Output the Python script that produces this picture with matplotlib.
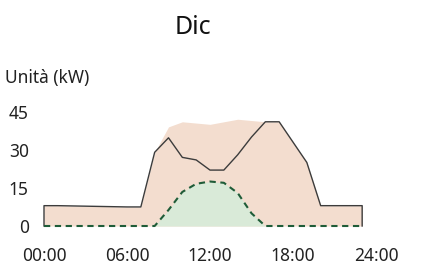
import matplotlib.pyplot as plt
import numpy as np

plt.rcParams['font.family'] = ['Noto Sans', 'DejaVu Sans']

# dati orari (kW)
ore = list(range(24))
carico = [8, 8, 7.9, 7.8, 7.7, 7.6, 7.5, 7.5, 29, 34.7, 27, 26, 22, 22,
          28, 35, 41, 41, 33, 25, 8, 8, 8, 8]
totale = [8, 8, 7.9, 7.8, 7.7, 7.6, 7.5, 7.5, 29, 39, 41, 40.5, 40, 41,
          42, 41.5, 41, 41, 33, 25, 8, 8, 8, 8]
fotovoltaico = [0, 0, 0, 0, 0, 0, 0, 0, 0, 6.3, 13.4, 16.6, 17.5, 17,
                13, 5, 0, 0, 0, 0, 0, 0, 0, 0]
xtick = [0, 6, 12, 18, 24]
xlabels = ['00:00', '06:00', '12:00', '18:00', '24:00']
yticks = [0, 15, 30, 45]

fig = plt.figure(figsize=(4.26, 2.66), dpi=100)
ax = fig.add_axes([44 / 426, 40 / 266, 332 / 426, 122 / 266])

ax.fill_between(ore, 0, totale, color='#f3ddcf', lw=0)
ax.fill_between(ore, 0, fotovoltaico, color='#d9ead8', lw=0)

x_line = [ore[0]] + ore + [ore[-1]]
y_line = [0] + carico + [0]
ax.plot(x_line, y_line, color='#3c3c3c', lw=1.0, clip_on=False)
ax.plot(ore, fotovoltaico, color='#1f5c38', lw=1.5, ls=(0, (3, 2.2)),
        clip_on=False)

ax.set_xlim(0, 24)
ax.set_ylim(0, 48)
ax.set_xticks(xtick)
ax.set_xticklabels(xlabels)
ax.set_yticks(yticks)
for s in ax.spines.values():
    s.set_visible(False)
ax.tick_params(length=0, labelsize=12.5, colors='#222222')
ax.tick_params(axis='x', pad=15)
ax.tick_params(axis='y', pad=11)

fig.text(5 / 426, 1 - 78 / 266, 'Unità (kW)', fontsize=12.5, color='#222222',
         va='center', ha='left')
fig.text(193 / 426, 1 - 28 / 266, 'Dic', fontsize=18, color='#111111',
         va='center', ha='center')

fig.savefig('out.png', dpi=100)
